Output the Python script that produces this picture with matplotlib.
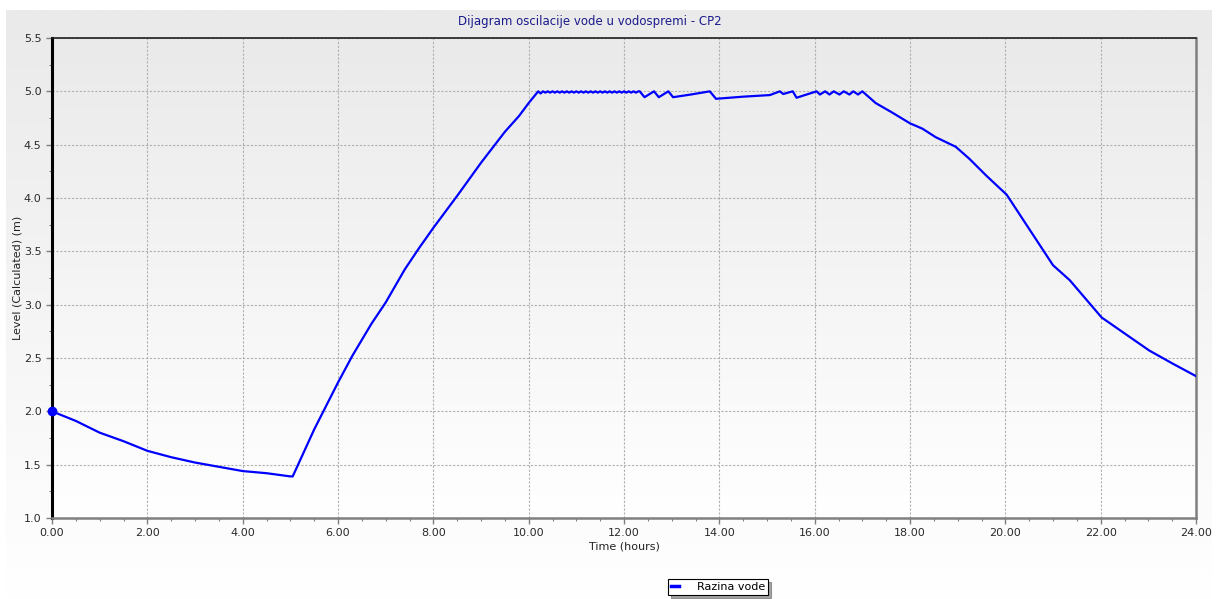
import matplotlib.pyplot as plt
import numpy as np
from matplotlib.ticker import MultipleLocator, FormatStrFormatter

# Reservoir level over one day (hours, metres)
hours_fall = [0.0, 0.5, 1.0, 1.5, 2.0, 2.5, 3.0, 3.5, 4.0, 4.5, 5.0]
level_fall = [2.00, 1.91, 1.80, 1.72, 1.63, 1.57, 1.52, 1.48, 1.44, 1.42, 1.39]

hours_rise = [5.05, 5.5, 6.0, 6.3, 6.7, 7.0, 7.4, 7.7, 8.0, 8.5, 9.0, 9.5, 9.8, 10.0, 10.2]
level_rise = [1.39, 1.83, 2.27, 2.52, 2.82, 3.02, 3.33, 3.53, 3.72, 4.02, 4.33, 4.62, 4.77, 4.89, 5.00]

# pump switching near the overflow level
hours_top = [10.25, 10.30, 10.35, 10.40, 10.45, 10.50, 10.55, 10.60, 10.65, 10.70,
             10.75, 10.80, 10.85, 10.90, 10.95, 11.00, 11.05, 11.10, 11.15, 11.20,
             11.25, 11.30, 11.35, 11.40, 11.45, 11.50, 11.55, 11.60, 11.65, 11.70,
             11.75, 11.80, 11.85, 11.90, 11.95, 12.00, 12.05, 12.10, 12.15, 12.20,
             12.25, 12.30,
             12.33, 12.43, 12.63, 12.73, 12.93, 13.03, 13.40, 13.80, 13.93, 14.50,
             15.06, 15.27, 15.34, 15.54, 15.62, 16.04, 16.11, 16.22, 16.31, 16.40,
             16.52, 16.61, 16.73, 16.81, 16.91, 17.00]
level_top = [4.980, 5.000, 4.988, 5.000, 4.988, 5.000, 4.988, 5.000, 4.988, 5.000,
             4.988, 5.000, 4.988, 5.000, 4.988, 5.000, 4.988, 5.000, 4.988, 5.000,
             4.988, 5.000, 4.988, 5.000, 4.988, 5.000, 4.988, 5.000, 4.988, 5.000,
             4.988, 5.000, 4.988, 5.000, 4.988, 5.000, 4.988, 5.000, 4.988, 5.000,
             4.988, 5.000,
             5.000, 4.945, 5.000, 4.945, 5.000, 4.945, 4.970, 5.000, 4.930, 4.950,
             4.965, 5.000, 4.975, 5.000, 4.940, 5.000, 4.970, 5.000, 4.970, 5.000,
             4.970, 5.000, 4.970, 5.000, 4.970, 5.000]

hours_drain = [17.28, 17.63, 18.0, 18.26, 18.54, 18.96, 19.24, 19.6, 20.03, 20.5,
               21.0, 21.35, 22.02, 22.6, 23.02, 23.5, 24.0]
level_drain = [4.89, 4.80, 4.70, 4.65, 4.57, 4.48, 4.37, 4.21, 4.03, 3.71,
               3.37, 3.23, 2.88, 2.70, 2.57, 2.45, 2.33]

hours = hours_fall + hours_rise + hours_top + hours_drain
level = level_fall + level_rise + level_top + level_drain

W, H = 1217, 599
fig = plt.figure(figsize=(W / 100, H / 100), dpi=100)
fig.patch.set_facecolor('white')

grad = np.linspace(0, 1, 256).reshape(-1, 1)
shade = plt.matplotlib.colors.LinearSegmentedColormap.from_list('shade', ['#eaeaea', '#ffffff'])

# grey panel behind the chart
bg = fig.add_axes([6 / W, 0, (1212 - 6) / W, (H - 10) / H], zorder=-10)
bg.imshow(grad, cmap=shade, aspect='auto', extent=[0, 1, 0, 1], origin='upper')
bg.axis('off')

ax = fig.add_axes([52 / W, 1 - 518 / H, (1196 - 52) / W, (518 - 38) / H])
ax.patch.set_alpha(0)
ax.imshow(grad, cmap=shade, aspect='auto', extent=[0, 1, 0, 1], origin='upper',
          transform=ax.transAxes, zorder=0)

ax.plot(hours, level, color='#0000ff', lw=1.6, zorder=3, label='Razina vode')
ax.plot(hours[0], level[0], 'o', color='#0000ff', ms=6, zorder=4, clip_on=False)

ax.set_xlim(0, 24)
ax.set_ylim(1.0, 5.5)
ax.xaxis.set_major_locator(MultipleLocator(2))
ax.xaxis.set_minor_locator(MultipleLocator(0.5))
ax.yaxis.set_major_locator(MultipleLocator(0.5))
ax.yaxis.set_minor_locator(MultipleLocator(0.25))
ax.xaxis.set_major_formatter(FormatStrFormatter('%.2f'))
ax.yaxis.set_major_formatter(FormatStrFormatter('%.1f'))

ax.grid(True, which='major', color='#b0b0b0', linestyle=(0, (2, 1.5)), lw=0.8, zorder=1)
ax.tick_params(which='both', direction='out', color='#808080', labelsize=8,
               labelcolor='#2a2a2a')
ax.tick_params(which='major', length=4, width=1)
ax.tick_params(which='minor', length=2, width=0.8)

ax.spines['left'].set_color('black')
ax.spines['left'].set_linewidth(2.2)
ax.spines['top'].set_color('#202020')
ax.spines['top'].set_linewidth(1.2)
ax.spines['right'].set_color('#808080')
ax.spines['right'].set_linewidth(1.8)
ax.spines['bottom'].set_color('#808080')
ax.spines['bottom'].set_linewidth(1.8)

ax.set_xlabel('Time (hours)', fontsize=8, color='#222222', labelpad=2)
ax.set_ylabel('Level (Calculated) (m)', fontsize=8, color='#222222', labelpad=1)

fig.text(590 / W, 1 - 21 / H, 'Dijagram oscilacije vode u vodospremi - CP2',
         ha='center', va='center', fontsize=8.5, color='#1a1a8c',
         family=['Liberation Sans Narrow', 'DejaVu Sans'])

leg = fig.legend(loc='center', bbox_to_anchor=(718 / W, 1 - 587 / H), fontsize=8,
                 frameon=True, fancybox=False, shadow=True, edgecolor='black',
                 framealpha=1, handlelength=0.8, handletextpad=1.6,
                 borderpad=0.25, borderaxespad=0)
leg.get_frame().set_linewidth(0.8)
for line in leg.get_lines():
    line.set_linewidth(2.5)

fig.savefig('out.png', dpi=100)
